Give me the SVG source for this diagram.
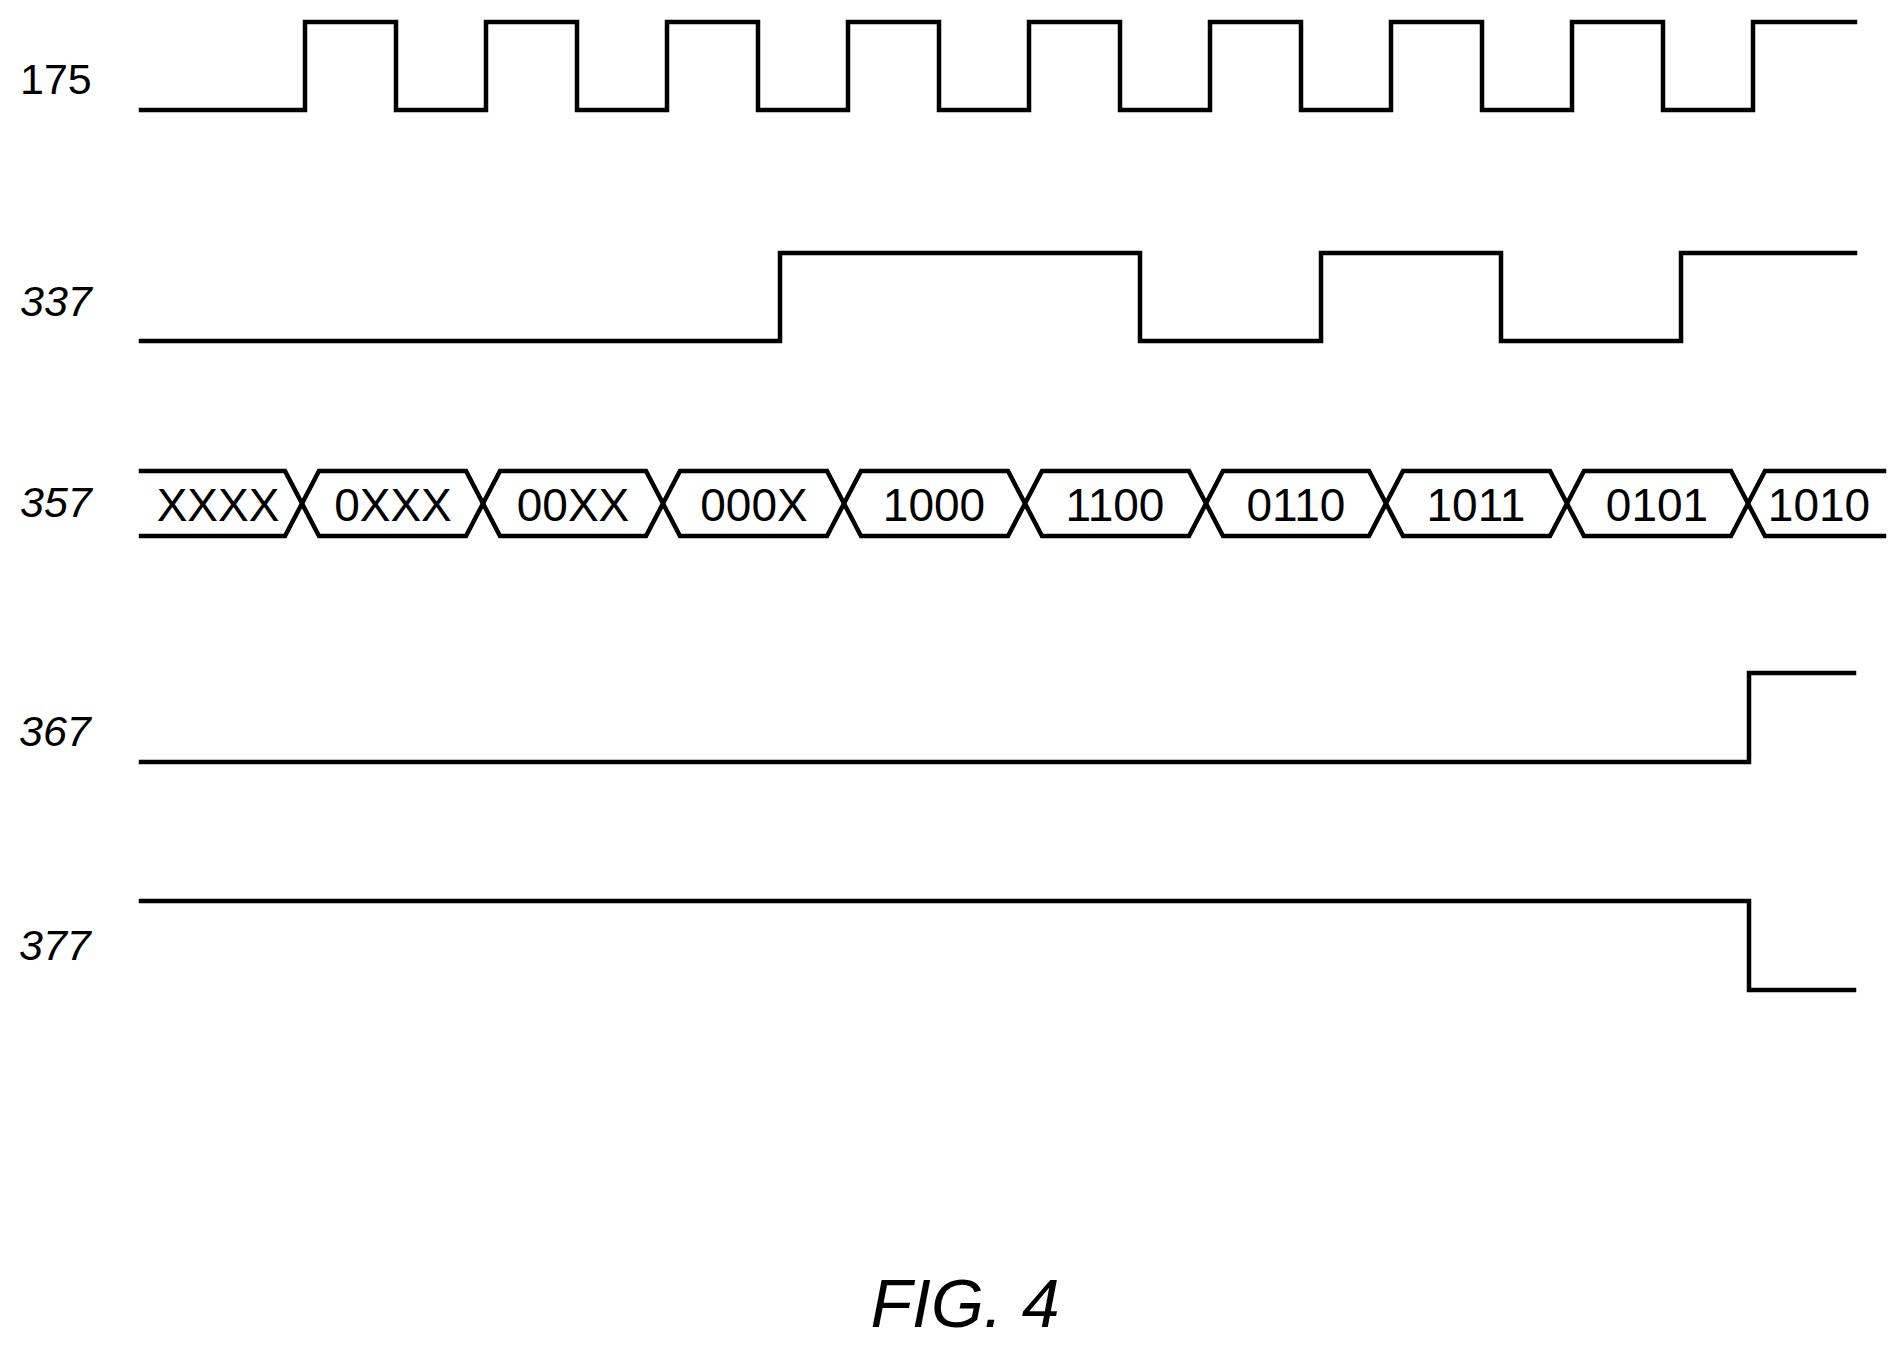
<svg xmlns="http://www.w3.org/2000/svg" width="1904" height="1349" viewBox="0 0 1904 1349">
<style>
.w{fill:none;stroke:#000;stroke-width:4.5;stroke-linejoin:miter;stroke-linecap:square}
.lbl{font-family:"Liberation Sans",Arial,sans-serif;font-size:43px;fill:#000}
.it{font-style:italic}
.d{font-family:"Liberation Sans",Arial,sans-serif;font-size:46px;fill:#000;text-anchor:middle}
</style>
<rect width="1904" height="1349" fill="#fff"/>
<g id="sig175">
<text class="lbl" x="20" y="94">175</text>
<path class="w" d="M141,110 H305 V22 H396 V110 H486 V22 H577 V110 H667 V22 H758 V110 H848 V22 H939 V110 H1029 V22 H1120 V110 H1210 V22 H1301 V110 H1391 V22 H1482 V110 H1572 V22 H1663 V110 H1753 V22 H1855"/>
</g>
<g id="sig337">
<text class="lbl it" x="20" y="316">337</text>
<path class="w" d="M141,341 H780 V253 H1140 V341 H1321 V253 H1501 V341 H1681 V253 H1855"/>
</g>
<g id="sig357">
<text class="lbl it" x="20" y="517">357</text>
<path class="w" d="M141,471 H285 L302,503.5 L285,536 H141"/>
<path class="w" d="M302,503.5 L319,471 H466 L483,503.5 L466,536 H319 Z"/>
<path class="w" d="M483,503.5 L500,471 H646 L663,503.5 L646,536 H500 Z"/>
<path class="w" d="M663,503.5 L680,471 H827 L844,503.5 L827,536 H680 Z"/>
<path class="w" d="M844,503.5 L861,471 H1008 L1025,503.5 L1008,536 H861 Z"/>
<path class="w" d="M1025,503.5 L1042,471 H1189 L1206,503.5 L1189,536 H1042 Z"/>
<path class="w" d="M1206,503.5 L1223,471 H1369 L1386,503.5 L1369,536 H1223 Z"/>
<path class="w" d="M1386,503.5 L1403,471 H1550 L1567,503.5 L1550,536 H1403 Z"/>
<path class="w" d="M1567,503.5 L1584,471 H1731 L1748,503.5 L1731,536 H1584 Z"/>
<path class="w" d="M1884,471 H1765 L1748,503.5 L1765,536 H1884"/>
<text class="d" x="218" y="521">XXXX</text>
<text class="d" x="393" y="521">0XXX</text>
<text class="d" x="573" y="521">00XX</text>
<text class="d" x="754" y="521">000X</text>
<text class="d" x="934" y="521">1000</text>
<text class="d" x="1115" y="521">1100</text>
<text class="d" x="1296" y="521">0110</text>
<text class="d" x="1476" y="521">1011</text>
<text class="d" x="1657" y="521">0101</text>
<text class="d" x="1819" y="521">1010</text>
</g>
<g id="sig367">
<text class="lbl it" x="19" y="746">367</text>
<path class="w" d="M141,762 H1749 V673 H1854"/>
</g>
<g id="sig377">
<text class="lbl it" x="19" y="960">377</text>
<path class="w" d="M141,901 H1749 V990 H1854"/>
</g>
<g id="connectors"></g>
<text x="965" y="1327" text-anchor="middle" font-family="Liberation Sans, Arial, sans-serif" font-size="68" font-style="italic">FIG. 4</text>
</svg>
